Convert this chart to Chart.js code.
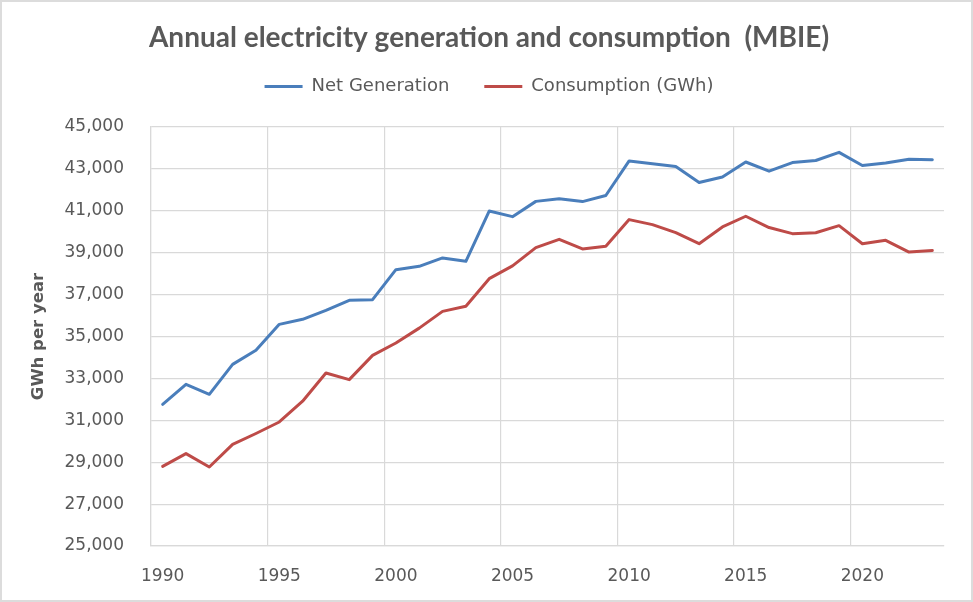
<!DOCTYPE html>
<html>
<head>
<meta charset="utf-8">
<script src="https://cdn.jsdelivr.net/npm/chart.js@4/dist/chart.umd.min.js"></script>
<style>
  html, body { margin: 0; padding: 0; background: #fff; }
  #wrap { width: 973px; height: 602px; position: relative; }
</style>
</head>
<body>
<div id="wrap"><canvas id="c" width="973" height="602"></canvas></div>
<script>
const years = [1990,1991,1992,1993,1994,1995,1996,1997,1998,1999,2000,2001,2002,2003,2004,2005,2006,2007,2008,2009,2010,2011,2012,2013,2014,2015,2016,2017,2018,2019,2020,2021,2022,2023];
const netGeneration = [31760,32720,32240,33670,34340,35580,35820,36250,36730,36760,38190,38350,38750,38590,40990,40720,41450,41580,41440,41730,43380,43250,43110,42350,42610,43330,42890,43300,43400,43790,43160,43280,43460,43440];
const consumption = [28800,29410,28770,29850,30370,30920,31910,33260,32940,34100,34690,35400,36200,36440,37760,38370,39240,39640,39180,39310,40580,40340,39960,39430,40230,40740,40200,39910,39950,40290,39430,39590,39030,39110];
const seriesNames = ['Net Generation', 'Consumption (GWh)'];
const chartTitle = 'Annual electricity generation and consumption  (MBIE)';
const yTitle = 'GWh per year';

const TEXT = '#595959';
const GRID = '#d9d9d9';

const framePlugin = {
  id: 'frame',
  beforeDraw(chart) {
    const ctx = chart.ctx;
    ctx.save();
    ctx.fillStyle = '#ffffff';
    ctx.fillRect(0, 0, chart.width, chart.height);
    ctx.restore();
  },
  afterDraw(chart) {
    const ctx = chart.ctx;
    ctx.save();
    ctx.strokeStyle = '#dcdcdc';
    ctx.lineWidth = 2;
    ctx.strokeRect(1, 1, chart.width - 2, chart.height - 2);
    ctx.restore();
  }
};

// empty layout box between the legend and the plot area
const spacerPlugin = {
  id: 'spacer',
  beforeInit(chart) {
    const box = {
      position: 'top', weight: 0, fullSize: true,
      options: { stackWeight: 1 },
      top: 0, left: 0, right: 0, bottom: 0, width: 0, height: 0,
      update(maxWidth) { this.width = maxWidth; this.height = 21.5; return { width: this.width, height: this.height }; },
      isHorizontal() { return true; },
      getPadding() { return { top: 0, left: 0, right: 0, bottom: 0 }; },
      draw() {}
    };
    Chart.layouts.addBox(chart, box);
  }
};

new Chart(document.getElementById('c'), {
  type: 'line',
  data: {
    labels: years.map(String),
    datasets: [
      { label: seriesNames[0], data: netGeneration, borderColor: '#4a7ebb', backgroundColor: '#4a7ebb', borderWidth: 3, pointRadius: 0, tension: 0, borderJoinStyle: 'round', borderCapStyle: 'round' },
      { label: seriesNames[1], data: consumption, borderColor: '#be4b48', backgroundColor: '#be4b48', borderWidth: 3, pointRadius: 0, tension: 0, borderJoinStyle: 'round', borderCapStyle: 'round' }
    ]
  },
  options: {
    responsive: false,
    animation: false,
    layout: { padding: { left: 5, right: 0, top: 0, bottom: 0 } },
    plugins: {
      title: {
        display: true,
        text: chartTitle,
        color: TEXT,
        font: { family: 'Lato', size: 28, weight: '700' },
        padding: { top: 21.5, bottom: -12.6 }
      },
      legend: {
        display: true,
        position: 'top',
        labels: {
          color: TEXT,
          font: { family: 'DejaVu Sans', size: 18 },
          boxWidth: 38,
          boxHeight: 3,
          padding: 35,
          generateLabels(chart) {
            const items = Chart.defaults.plugins.legend.labels.generateLabels(chart);
            return items.map(it => Object.assign(it, { lineWidth: 0, fillStyle: it.strokeStyle }));
          }
        }
      },
      tooltip: { enabled: false }
    },
    scales: {
      x: {
        type: 'category',
        offset: true,
        grid: {
          offset: true,
          drawTicks: false,
          color: ctx => (ctx.index !== undefined && ctx.index % 5 === 0) ? GRID : 'rgba(0,0,0,0)',
          lineWidth: 1.2
        },
        border: { color: GRID, width: 1.2 },
        ticks: {
          autoSkip: false,
          maxRotation: 0,
          color: TEXT,
          font: { family: 'DejaVu Sans', size: 17 },
          padding: 20,
          callback(value, index) { return index % 5 === 0 ? this.getLabelForValue(value) : ''; }
        },
        afterFit(scale) { scale.height = 56; scale.paddingRight = 29; scale.paddingLeft = 0; }
      },
      y: {
        min: 25000,
        max: 45000,
        grid: { color: GRID, drawTicks: false, lineWidth: 1.2 },
        border: { color: GRID, width: 1.2 },
        ticks: {
          stepSize: 2000,
          color: TEXT,
          font: { family: 'DejaVu Sans', size: 17 },
          padding: 27,
          callback: v => v.toLocaleString('en-US')
        },
        title: {
          display: true,
          text: yTitle,
          color: TEXT,
          font: { family: 'DejaVu Sans', size: 16.5, weight: 'bold' },
          padding: { top: 24, bottom: 0 }
        },
        afterFit(scale) { scale.width = 146; }
      }
    }
  },
  plugins: [framePlugin, spacerPlugin]
});
</script>
</body>
</html>
